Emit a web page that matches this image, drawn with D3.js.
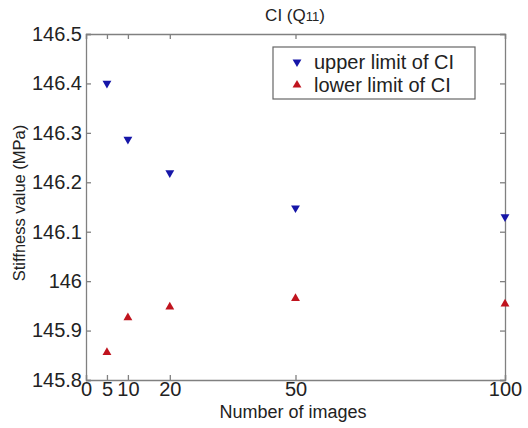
<!DOCTYPE html>
<html>
<head>
<meta charset="utf-8">
<script src="https://cdn.jsdelivr.net/npm/d3@7"></script>
<style>
  body { margin: 0; background: #fff; }
  svg { display: block; font-family: "Liberation Sans", Arial, sans-serif; }
</style>
</head>
<body>
<div id="chart"></div>
<script>
const images = [5, 10, 20, 50, 100];
const upperCI = [146.40, 146.287, 146.219, 146.148, 146.13];
const lowerCI = [145.856, 145.926, 145.948, 145.965, 145.954];
const xTicks = [0, 5, 10, 20, 50, 100];
const yTicks = [145.8, 145.9, 146, 146.1, 146.2, 146.3, 146.4, 146.5];

const W = 528, H = 428;
const margin = { top: 34, right: 23, bottom: 48, left: 86 };
const width = W - margin.left - margin.right;
const height = H - margin.top - margin.bottom;

const svg = d3.select("#chart").append("svg")
  .attr("width", W)
  .attr("height", H);

const g = svg.append("g")
  .attr("transform", `translate(${margin.left},${margin.top})`);

const x = d3.scaleLinear().domain([0, 100]).range([0, width]);
const y = d3.scaleLinear().domain([145.8, 146.5]).range([height, 0]);

const axisColor = "#808080";
const fmt = d => d3.format("")(+d.toFixed(1));

// bottom axis, ticks pointing in
const xb = g.append("g")
  .attr("transform", `translate(0,${height})`)
  .call(d3.axisBottom(x).tickValues(xTicks).tickSize(-5).tickPadding(2).tickFormat(d3.format("d")));
xb.selectAll("text").attr("font-size", 20).attr("fill", "#222").attr("dy", "0.71em");

// top axis, ticks only
g.append("g")
  .call(d3.axisTop(x).tickValues(xTicks).tickSize(-5).tickFormat(""));

// left axis
const yl = g.append("g")
  .call(d3.axisLeft(y).tickValues(yTicks).tickSize(-5).tickPadding(4).tickFormat(fmt));
yl.selectAll("text").attr("font-size", 20).attr("fill", "#222");

// right axis
g.append("g")
  .attr("transform", `translate(${width},0)`)
  .call(d3.axisRight(y).tickValues(yTicks).tickSize(-5).tickFormat(""));

g.selectAll(".domain, .tick line").attr("stroke", axisColor).attr("stroke-width", 1.3);

// markers
const tri = d3.symbol().type(d3.symbolTriangle).size(34);

g.selectAll(".upper")
  .data(images.map((n, i) => [n, upperCI[i]]))
  .join("path")
  .attr("class", "upper")
  .attr("d", tri)
  .attr("transform", d => `translate(${x(d[0])},${y(d[1])}) rotate(180)`)
  .attr("fill", "#1616a8");

g.selectAll(".lower")
  .data(images.map((n, i) => [n, lowerCI[i]]))
  .join("path")
  .attr("class", "lower")
  .attr("d", tri)
  .attr("transform", d => `translate(${x(d[0])},${y(d[1])})`)
  .attr("fill", "#c0141e");

// legend
const lg = svg.append("g").attr("transform", "translate(273,47)");
lg.append("rect")
  .attr("width", 202).attr("height", 52)
  .attr("fill", "#fff").attr("stroke", "#666").attr("stroke-width", 1.2);
const items = [
  { label: "upper limit of CI", color: "#1616a8", rot: 180 },
  { label: "lower limit of CI", color: "#c0141e", rot: 0 }
];
items.forEach((it, i) => {
  const yy = 15 + i * 23;
  lg.append("path")
    .attr("d", tri)
    .attr("transform", `translate(24,${yy}) rotate(${it.rot})`)
    .attr("fill", it.color);
  lg.append("text")
    .attr("x", 41).attr("y", yy)
    .attr("dy", "0.35em")
    .attr("font-size", 20)
    .attr("fill", "#222")
    .text(it.label);
});

// title
const title = svg.append("text")
  .attr("x", 295)
  .attr("y", 21)
  .attr("text-anchor", "middle")
  .attr("font-size", 17)
  .attr("fill", "#222");
title.append("tspan").text("CI (Q");
title.append("tspan").attr("font-size", 13).text("11");
title.append("tspan").text(")");

// axis labels
svg.append("text")
  .attr("x", 293)
  .attr("y", 418)
  .attr("text-anchor", "middle")
  .attr("font-size", 18)
  .attr("fill", "#222")
  .text("Number of images");

svg.append("text")
  .attr("transform", `translate(25,${margin.top + height / 2 - 4}) rotate(-90)`)
  .attr("text-anchor", "middle")
  .attr("font-size", 16.5)
  .attr("fill", "#222")
  .text("Stiffness value (MPa)");
</script>
</body>
</html>
